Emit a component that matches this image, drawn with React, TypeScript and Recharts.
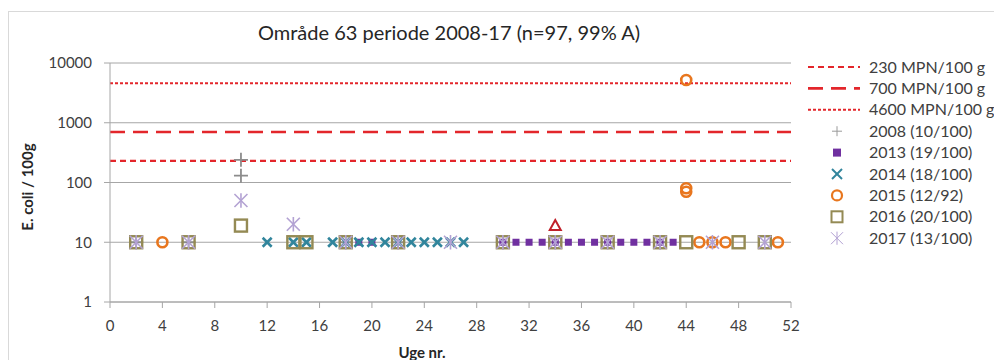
import React from "react";
import {
  ComposedChart,
  Scatter,
  XAxis,
  YAxis,
  CartesianGrid,
  ReferenceLine,
} from "recharts";

const FONT = "Lato, 'Open Sans', sans-serif";

// ---- data ----
const xTicks = [0, 4, 8, 12, 16, 20, 24, 28, 32, 36, 40, 44, 48, 52];
const yTicks = [1, 10, 100, 1000, 10000];

const limitValues = [230, 700, 4600];
const limitLabels = ["230 MPN/100 g", "700 MPN/100 g", "4600 MPN/100 g"];

const weeks2008 = [2, 6, 10, 10, 18, 22, 30, 34, 38, 42];
const vals2008 = [10, 10, 240, 130, 10, 10, 10, 10, 10, 10];

const weeks2013 = [19, 20, 30, 31, 32, 33, 34, 35, 36, 37, 38, 39, 40, 41, 42, 43];
const vals2013 = [10, 10, 10, 10, 10, 10, 10, 10, 10, 10, 10, 10, 10, 10, 10, 10];

const weeks2014 = [12, 14, 15, 17, 18, 19, 20, 21, 22, 23, 24, 25, 26, 27];
const vals2014 = [10, 10, 10, 10, 10, 10, 10, 10, 10, 10, 10, 10, 10, 10];

const weeks2015 = [4, 44, 44, 44, 45, 46, 47, 51];
const vals2015 = [10, 5200, 80, 70, 10, 10, 10, 10];

const weeks2016 = [2, 6, 10, 14, 15, 18, 22, 30, 34, 38, 42, 44, 48, 50];
const vals2016 = [10, 10, 19, 10, 10, 10, 10, 10, 10, 10, 10, 10, 10, 10];

const weeks2017 = [2, 6, 10, 14, 18, 22, 26, 30, 34, 38, 42, 46, 50];
const vals2017 = [10, 10, 50, 20, 10, 10, 10, 10, 10, 10, 10, 10, 10];

const weeksOther = [34];
const valsOther = [19];

const seriesLabels = [
  "2008 (10/100)",
  "2013 (19/100)",
  "2014 (18/100)",
  "2015 (12/92)",
  "2016 (20/100)",
  "2017 (13/100)",
];

const toPts = (w: number[], v: number[]) => w.map((x, i) => ({ x, y: v[i] }));

// ---- styles ----
const C2008 = "#8c8c8c";
const C2013 = "#7030a0";
const C2014 = "#31859c";
const C2015 = "#e8761e";
const C2016 = "#948a54";
const C2017 = "#b3a2d3";
const CRED = "#e3262b";
const COther = "#c0202a";
const limitDash = ["6 4", "15 8", "3 2"];
const limitWidth = [2.2, 2.6, 2];

// ---- marker shapes ----
function plusMark(color: string, s: number, w: number) {
  return (p: any) => (
    <g>
      <line x1={p.cx - s} x2={p.cx + s} y1={p.cy} y2={p.cy} stroke={color} strokeWidth={w} />
      <line x1={p.cx} x2={p.cx} y1={p.cy - s} y2={p.cy + s} stroke={color} strokeWidth={w} />
    </g>
  );
}
function filledSquare(color: string, s: number) {
  return (p: any) => <rect x={p.cx - s} y={p.cy - s} width={2 * s} height={2 * s} fill={color} />;
}
function xMark(color: string, s: number, w: number) {
  return (p: any) => (
    <g>
      <line x1={p.cx - s} x2={p.cx + s} y1={p.cy - s} y2={p.cy + s} stroke={color} strokeWidth={w} />
      <line x1={p.cx - s} x2={p.cx + s} y1={p.cy + s} y2={p.cy - s} stroke={color} strokeWidth={w} />
    </g>
  );
}
function circleMark(color: string, r: number, w: number) {
  return (p: any) => <circle cx={p.cx} cy={p.cy} r={r} fill="none" stroke={color} strokeWidth={w} />;
}
function openSquare(color: string, s: number, w: number) {
  return (p: any) => (
    <rect x={p.cx - s} y={p.cy - s} width={2 * s} height={2 * s} fill="none" stroke={color} strokeWidth={w} />
  );
}
function asterisk(color: string, s: number, w: number) {
  return (p: any) => (
    <g stroke={color} strokeWidth={w}>
      <line x1={p.cx - s} x2={p.cx + s} y1={p.cy - s} y2={p.cy + s} />
      <line x1={p.cx - s} x2={p.cx + s} y1={p.cy + s} y2={p.cy - s} />
      <line x1={p.cx} x2={p.cx} y1={p.cy - s * 1.1} y2={p.cy + s * 1.1} />
    </g>
  );
}
function triangle(color: string, s: number, w: number) {
  return (p: any) => (
    <polygon
      points={`${p.cx},${p.cy - s} ${p.cx - s},${p.cy + s * 0.8} ${p.cx + s},${p.cy + s * 0.8}`}
      fill="none"
      stroke={color}
      strokeWidth={w}
    />
  );
}

const legendShapes = [
  plusMark("#9a9a9a", 5, 1),
  filledSquare(C2013, 4),
  xMark(C2014, 5, 2),
  circleMark(C2015, 5, 2.2),
  openSquare(C2016, 5.5, 2),
  asterisk(C2017, 6, 1),
];

function Legend() {
  const rowH = 21.4;
  const y0 = 55;
  return (
    <svg
      width={200}
      height={240}
      style={{ position: "absolute", left: 794, top: 0 }}
    >
      {limitLabels.map((lab, i) => (
        <g key={lab}>
          <line
            x1={5}
            x2={57}
            y1={y0 + i * rowH}
            y2={y0 + i * rowH}
            stroke={CRED}
            strokeWidth={limitWidth[i]}
            strokeDasharray={limitDash[i]}
          />
          <text x={66} y={y0 + i * rowH + 5.5} fontFamily={FONT} fontSize={16} fill="#404040">
            {lab}
          </text>
        </g>
      ))}
      {seriesLabels.map((lab, j) => {
        const i = j + 3;
        const cy = y0 + i * rowH;
        return (
          <g key={lab}>
            {legendShapes[j]({ cx: 34, cy })}
            <text x={66} y={cy + 5.5} fontFamily={FONT} fontSize={16} fill="#404040">
              {lab}
            </text>
          </g>
        );
      })}
    </svg>
  );
}

export default function App() {
  return (
    <div
      style={{
        position: "relative",
        width: 992,
        height: 360,
        marginTop: 3,
        border: "1px solid #d9d9d9",
        background: "#fff",
        fontFamily: FONT,
      }}
    >
      <div
        style={{
          position: "absolute",
          left: 0,
          top: 8,
          width: 880,
          textAlign: "center",
          fontSize: 20,
          color: "#262626",
        }}
      >
        Område 63 periode 2008-17 (n=97, 99% A)
      </div>
      <ComposedChart
        width={992}
        height={348}
        margin={{ top: 51, right: 210, bottom: 18, left: 30 }}
        style={{ position: "absolute", left: 0, top: 0 }}
      >
        <CartesianGrid horizontal vertical={false} stroke="#a6a6a6" />
        <XAxis
          type="number"
          dataKey="x"
          domain={[0, 52]}
          ticks={xTicks}
          interval={0}
          height={40}
          stroke="#a6a6a6"
          tickSize={6}
          tickMargin={12}
          tick={{ fontFamily: FONT, fontSize: 15, fill: "#404040" }}
        />
        <YAxis
          type="number"
          dataKey="y"
          scale="log"
          domain={[1, 10000]}
          ticks={yTicks}
          interval={0}
          allowDataOverflow
          width={71}
          stroke="#a6a6a6"
          tickSize={6}
          tickMargin={12}
          tick={{ fontFamily: FONT, fontSize: 15, fill: "#404040" }}
        />
        {limitValues.map((v, i) => (
          <ReferenceLine
            key={v}
            y={v}
            stroke={CRED}
            strokeWidth={limitWidth[i]}
            strokeDasharray={limitDash[i]}
          />
        ))}
        <Scatter data={toPts(weeks2008, vals2008)} shape={plusMark(C2008, 7, 1.8)} isAnimationActive={false} />
        <Scatter data={toPts(weeks2013, vals2013)} shape={filledSquare(C2013, 3.5)} isAnimationActive={false} />
        <Scatter data={toPts(weeks2014, vals2014)} shape={xMark(C2014, 4.5, 2.6)} isAnimationActive={false} />
        <Scatter data={toPts(weeksOther, valsOther)} shape={triangle(COther, 5.5, 2)} isAnimationActive={false} />
        <Scatter data={toPts(weeks2015, vals2015)} shape={circleMark(C2015, 5, 2.6)} isAnimationActive={false} />
        <Scatter data={toPts(weeks2016, vals2016)} shape={openSquare(C2016, 6, 2.4)} isAnimationActive={false} />
        <Scatter data={toPts(weeks2017, vals2017)} shape={asterisk(C2017, 6.5, 1.6)} isAnimationActive={false} />
      </ComposedChart>
      <div
        style={{
          position: "absolute",
          left: 313,
          width: 200,
          textAlign: "center",
          top: 331,
          fontSize: 15,
          fontWeight: "bold",
          color: "#262626",
        }}
      >
        Uge nr.
      </div>
      <div
        style={{
          position: "absolute",
          left: 18,
          top: 175,
          transform: "translate(-50%, -50%) rotate(-90deg)",
          fontSize: 15,
          fontWeight: "bold",
          color: "#262626",
          whiteSpace: "nowrap",
        }}
      >
        E. coli / 100g
      </div>
      <Legend />
    </div>
  );
}
